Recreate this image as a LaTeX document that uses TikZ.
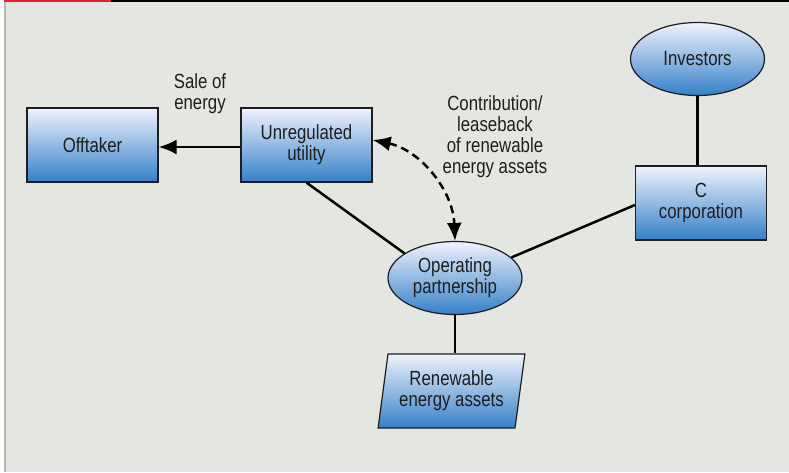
\documentclass[tikz,border=0pt]{standalone}
\usepackage{fontspec}
\setmainfont[FakeStretch=0.82]{Liberation Sans}
\usetikzlibrary{shapes.geometric,arrows.meta}
\definecolor{pagebg}{RGB}{228,230,225}
\definecolor{fillTop}{RGB}{240,242,253}
\definecolor{fillBot}{RGB}{52,128,200}
\definecolor{ink}{RGB}{30,30,30}
\definecolor{barred}{RGB}{232,30,40}
\definecolor{edgegray}{RGB}{185,185,185}
\begin{document}
\begin{tikzpicture}[x=1pt,y=-1pt,
  txt/.style={font=\fontsize{20.5}{21}\selectfont, text=ink, align=center},
  shaded/.style={txt, draw=ink, line width=1.2pt, top color=fillTop, bottom color=fillBot, inner sep=0pt},
  entity/.style={shaded, rectangle, minimum width=131pt, minimum height=74pt},
  party/.style={shaded, ellipse, minimum width=134pt, minimum height=73pt},
  asset/.style={shaded, trapezium, trapezium left angle=78.5, trapezium right angle=101.5,
    trapezium stretches=true, minimum width=147pt, minimum height=74pt},
  link/.style={line width=2.5pt, draw=black},
  head/.tip={Latex[length=18pt,width=15pt]},
  tip/.style={-head},
  note/.style={txt}
]
% canvas and frame
\fill[pagebg] (0,0) rectangle (789,472);
\fill[white] (0,0) rectangle (4,472);
\fill[edgegray] (4,0) rectangle (6,472);
\fill[barred] (4,0) rectangle (111,2.2);
\fill[black] (111,0) rectangle (789,2.2);
\useasboundingbox (0,0) rectangle (789,472);

% nodes
\node[entity] (off) at (92.5,145) {Offtaker};
\node[entity] (util) at (306.5,145) {Unregulated\\utility};
\node[entity] (ccorp) at (701,203) {C\\corporation};
\node[party] (inv) at (697.5,59) {Investors};
\node[party] (op) at (455,278) {Operating\\partnership};
\node[asset] (ra) at (451.5,391) {Renewable\\energy assets};

% labels
\node[note] (sale) at (200,94) {Sale of\\energy};
\node[note] (contrib) at (495,137) {Contribution/\\leaseback\\of renewable\\energy assets};

% connectors
\draw[link,tip] (util.west |- 0,147) coordinate (ufrom) -- (off.east |- ufrom);
\draw[link] (util.south) -- (op.154);
\draw[link] (op.20) -- (ccorp.west |- 0,205);
\draw[link] (inv.south) -- (inv.south |- ccorp.north);
\draw[link] (op.south) -- (op.south |- ra.north);
\draw[link,dash pattern=on 8pt off 5pt,head-head]
  (util.east |- 0,140) .. controls (420,150) and (453,190) .. (op.north);
\end{tikzpicture}
\end{document}
